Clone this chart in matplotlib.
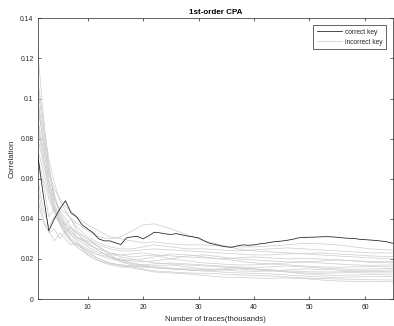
import numpy as np
import matplotlib
matplotlib.use("Agg")
import matplotlib.pyplot as plt
from matplotlib.ticker import FormatStrFormatter

plt.rcParams['font.family'] = ['Liberation Sans', 'DejaVu Sans']

#number of traces (thousands) for the correct key, one point per thousand
traces_correct = list(range(1, 66))
correct_key = [0.072, 0.052, 0.034, 0.040, 0.045, 0.049, 0.043, 0.041, 0.037, 0.035,
               0.033, 0.030, 0.029, 0.029, 0.028, 0.0272, 0.0305, 0.031, 0.0312, 0.030,
               0.0315, 0.0333, 0.033, 0.0325, 0.0322, 0.0326, 0.032, 0.0314, 0.031, 0.0305,
               0.029, 0.0278, 0.0272, 0.0265, 0.026, 0.0258, 0.0265, 0.027, 0.0268, 0.027,
               0.0275, 0.0278, 0.0283, 0.0287, 0.0289, 0.0293, 0.0298, 0.0305, 0.0307, 0.0308,
               0.0309, 0.031, 0.0311, 0.031, 0.0308, 0.0305, 0.0303, 0.0302, 0.0298, 0.0296,
               0.0294, 0.0292, 0.0289, 0.0285, 0.0278]

#incorrect key guesses, read at a coarser set of trace counts
traces_wrong = [1, 2, 3, 4, 5, 6, 7, 8, 10, 12, 14, 16, 18, 20, 22, 25, 28, 31, 34, 37,
                40, 43, 46, 49, 52, 55, 58, 61, 65]
wrong_1 = [0.095, 0.080, 0.062, 0.055, 0.050, 0.046, 0.044, 0.041, 0.037, 0.034, 0.031, 0.030, 0.029, 0.028, 0.0285,
           0.0275, 0.027, 0.027, 0.0265, 0.026, 0.026, 0.0265, 0.027, 0.0278, 0.0275, 0.027, 0.026, 0.025, 0.0244]
wrong_2 = [0.085, 0.070, 0.058, 0.050, 0.045, 0.043, 0.040, 0.038, 0.034, 0.031, 0.030, 0.031, 0.034, 0.037, 0.0375,
           0.035, 0.032, 0.029, 0.027, 0.025, 0.024, 0.0235, 0.023, 0.0225, 0.022, 0.0215, 0.021, 0.0205, 0.020]
wrong_3 = [0.110, 0.088, 0.070, 0.058, 0.049, 0.044, 0.040, 0.036, 0.031, 0.028, 0.026, 0.025, 0.025, 0.026, 0.027,
           0.026, 0.025, 0.025, 0.0245, 0.024, 0.0245, 0.025, 0.0255, 0.025, 0.0245, 0.024, 0.0235, 0.023, 0.023]
wrong_4 = [0.124, 0.092, 0.066, 0.052, 0.043, 0.038, 0.035, 0.033, 0.030, 0.027, 0.025, 0.024, 0.024, 0.0245, 0.025,
           0.0245, 0.024, 0.0235, 0.023, 0.0225, 0.022, 0.022, 0.0225, 0.0228, 0.023, 0.0225, 0.022, 0.0215, 0.0211]
wrong_5 = [0.080, 0.068, 0.055, 0.046, 0.041, 0.037, 0.034, 0.031, 0.027, 0.025, 0.023, 0.022, 0.021, 0.0215, 0.022,
           0.0215, 0.021, 0.0205, 0.020, 0.0205, 0.021, 0.0205, 0.020, 0.0203, 0.020, 0.0195, 0.019, 0.0188, 0.0186]
wrong_6 = [0.100, 0.082, 0.064, 0.050, 0.044, 0.040, 0.036, 0.033, 0.028, 0.024, 0.021, 0.020, 0.019, 0.0185, 0.019,
           0.020, 0.0215, 0.022, 0.021, 0.020, 0.0195, 0.019, 0.0185, 0.0185, 0.019, 0.0195, 0.019, 0.0182, 0.018]
wrong_7 = [0.070, 0.060, 0.050, 0.043, 0.038, 0.035, 0.032, 0.030, 0.026, 0.023, 0.022, 0.022, 0.0225, 0.023, 0.022,
           0.020, 0.019, 0.018, 0.0175, 0.017, 0.017, 0.0175, 0.018, 0.0185, 0.018, 0.0175, 0.017, 0.0168, 0.017]
wrong_8 = [0.090, 0.075, 0.060, 0.048, 0.040, 0.034, 0.030, 0.028, 0.025, 0.022, 0.020, 0.019, 0.0195, 0.020, 0.021,
           0.0225, 0.022, 0.021, 0.020, 0.019, 0.018, 0.0175, 0.017, 0.0165, 0.016, 0.0158, 0.016, 0.0162, 0.016]
wrong_9 = [0.065, 0.058, 0.041, 0.045, 0.039, 0.037, 0.040, 0.034, 0.030, 0.026, 0.022, 0.019, 0.0175, 0.017, 0.0175,
           0.018, 0.0175, 0.017, 0.0165, 0.016, 0.0158, 0.016, 0.0165, 0.016, 0.0155, 0.015, 0.0148, 0.015, 0.0153]
wrong_10 = [0.105, 0.086, 0.066, 0.051, 0.042, 0.036, 0.032, 0.029, 0.023, 0.020, 0.018, 0.017, 0.0165, 0.016, 0.0165,
            0.017, 0.016, 0.015, 0.0145, 0.014, 0.0138, 0.014, 0.0145, 0.015, 0.0148, 0.0145, 0.014, 0.0142, 0.0145]
wrong_11 = [0.075, 0.064, 0.052, 0.044, 0.039, 0.036, 0.033, 0.031, 0.029, 0.026, 0.023, 0.021, 0.020, 0.019, 0.018,
            0.0175, 0.017, 0.0165, 0.016, 0.0155, 0.015, 0.0145, 0.014, 0.0136, 0.0135, 0.0135, 0.0138, 0.0137, 0.0136]
wrong_12 = [0.088, 0.072, 0.054, 0.045, 0.037, 0.032, 0.029, 0.026, 0.022, 0.019, 0.0175, 0.017, 0.0165, 0.016, 0.0155,
            0.015, 0.0145, 0.014, 0.0145, 0.015, 0.0145, 0.014, 0.0135, 0.013, 0.0128, 0.013, 0.0132, 0.013, 0.013]
wrong_13 = [0.060, 0.045, 0.036, 0.041, 0.038, 0.033, 0.036, 0.031, 0.028, 0.024, 0.021, 0.0185, 0.017, 0.0165, 0.016,
            0.0155, 0.015, 0.0148, 0.015, 0.0155, 0.015, 0.0145, 0.0135, 0.0125, 0.012, 0.0118, 0.012, 0.0122, 0.012]
wrong_14 = [0.098, 0.078, 0.058, 0.046, 0.038, 0.033, 0.029, 0.027, 0.024, 0.022, 0.021, 0.0195, 0.018, 0.017, 0.016,
            0.015, 0.0145, 0.014, 0.0135, 0.013, 0.0128, 0.0125, 0.012, 0.0115, 0.011, 0.0108, 0.011, 0.0112, 0.0111]
wrong_15 = [0.056, 0.040, 0.033, 0.035, 0.030, 0.034, 0.029, 0.027, 0.024, 0.020, 0.018, 0.0165, 0.016, 0.015, 0.014,
            0.0135, 0.013, 0.0128, 0.0125, 0.012, 0.0118, 0.0115, 0.011, 0.0105, 0.0102, 0.010, 0.0098, 0.0096, 0.0095]
wrong_16 = [0.050, 0.038, 0.034, 0.029, 0.033, 0.030, 0.027, 0.028, 0.022, 0.019, 0.017, 0.016, 0.0155, 0.0145, 0.0135,
            0.013, 0.0125, 0.0118, 0.011, 0.0108, 0.0105, 0.0103, 0.0105, 0.0102, 0.0095, 0.009, 0.0088, 0.0087, 0.0086]
wrong_keys = [wrong_1, wrong_2, wrong_3, wrong_4, wrong_5, wrong_6, wrong_7, wrong_8,
              wrong_9, wrong_10, wrong_11, wrong_12, wrong_13, wrong_14, wrong_15, wrong_16]

x_ticks = [10, 20, 30, 40, 50, 60]
y_ticks = [0, 0.02, 0.04, 0.06, 0.08, 0.1, 0.12, 0.14]

dark = '#262626'

fig = plt.figure(figsize=(3.94, 3.26), dpi=100)
ax = fig.add_axes([0.0957, 0.0828, 0.901, 0.861])

#gray lines first so the correct key sits on top
for i, vals in enumerate(wrong_keys):
    ax.plot(traces_wrong, vals, color='#cccccc', linewidth=0.5,
            label='incorrect key' if i == 0 else None, zorder=2)
ax.plot(traces_correct, correct_key, color='#1a1a1a', linewidth=0.55, label='correct key', zorder=3)

ax.set_xlim(1, 65)
ax.set_ylim(0, 0.14)
ax.set_xticks(x_ticks)
ax.set_yticks(y_ticks)
ax.yaxis.set_major_formatter(FormatStrFormatter('%g'))
ax.tick_params(direction='in', length=2.2, width=0.5, top=True, right=True,
               labelsize=4.9, colors=dark)
ax.tick_params(axis='x', pad=3.5)
ax.tick_params(axis='y', pad=3)
for side in ax.spines.values():
    side.set_linewidth(0.5)
    side.set_color(dark)

ax.set_xlabel('Number of traces(thousands)', fontsize=5.6, color=dark, labelpad=3.5)
ax.set_ylabel('Correlation', fontsize=5.6, color=dark, labelpad=3)
ax.set_title('1st-order CPA', fontsize=5.8, fontweight='bold', color='black', pad=3)

#legend: correct key listed first, like the original
handles, labels = ax.get_legend_handles_labels()
leg = ax.legend([handles[1], handles[0]], [labels[1], labels[0]], loc='upper right',
                fontsize=4.8, frameon=True, fancybox=False, framealpha=1,
                edgecolor=dark, borderaxespad=1.0, handlelength=3.8,
                handletextpad=0.4, borderpad=0.55, labelspacing=0.45)
leg.get_frame().set_linewidth(0.5)
for t in leg.get_texts():
    t.set_color(dark)

fig.savefig('out.png', dpi=100)
